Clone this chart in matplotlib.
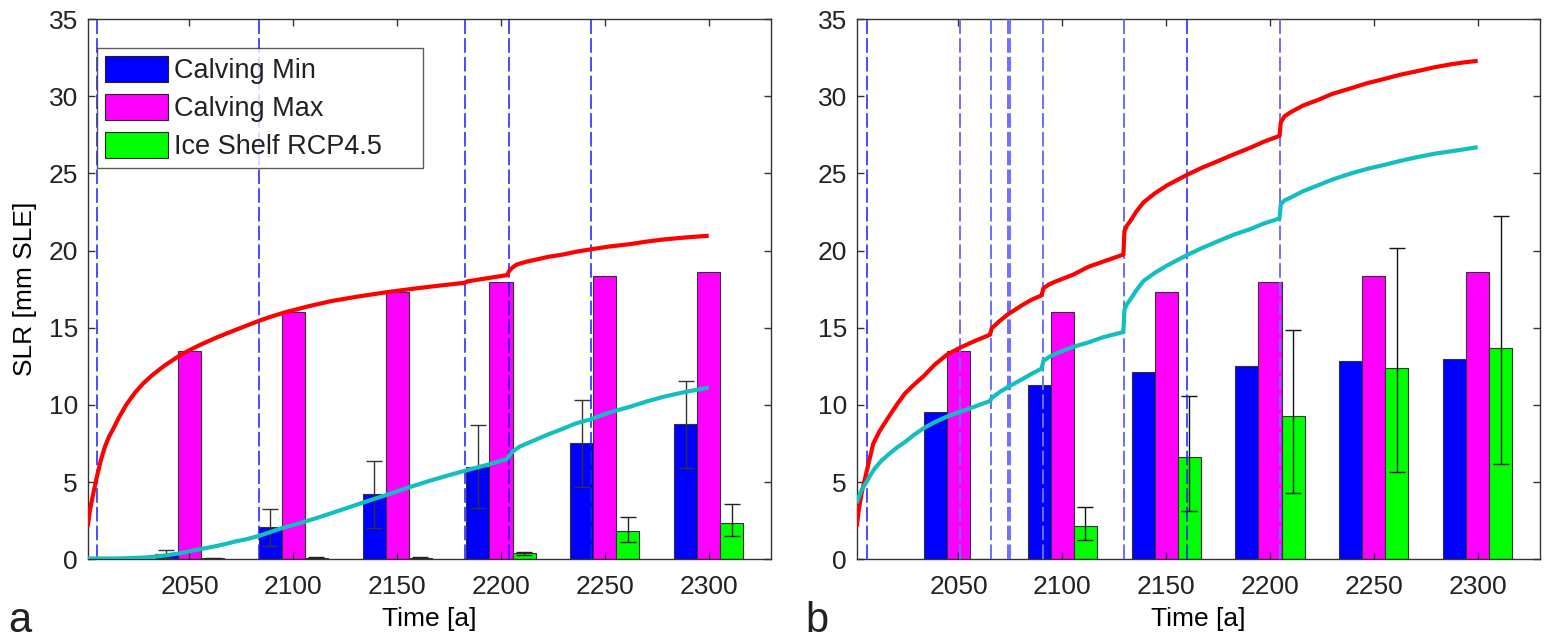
import numpy as np
import matplotlib.pyplot as plt
from matplotlib.patches import Patch

plt.rcParams['font.family'] = ['Liberation Sans', 'DejaVu Sans']
plt.rcParams['lines.scale_dashes'] = False
plt.rcParams['text.color'] = '#222222'

# bar groups
years = [2050, 2100, 2150, 2200, 2250, 2300]
calving_max = [13.49, 16.04, 17.29, 17.96, 18.37, 18.61]

# panel a
calving_min_a = [0.34, 2.07, 4.21, 6.00, 7.51, 8.74]
calving_min_a_lo = [0.08, 0.88, 2.03, 3.30, 4.68, 5.91]
calving_min_a_hi = [0.60, 3.26, 6.39, 8.72, 10.32, 11.55]
shelf_a = [0.06, 0.10, 0.10, 0.39, 1.83, 2.37]
shelf_a_lo = [0.04, 0.06, 0.05, 0.26, 1.14, 1.51]
shelf_a_hi = [0.08, 0.13, 0.14, 0.49, 2.76, 3.56]

# panel b
calving_min_b = [9.52, 11.27, 12.11, 12.55, 12.84, 12.99]
shelf_b = [0.04, 2.16, 6.63, 9.30, 12.40, 13.68]
shelf_b_lo = [np.nan, 1.25, 3.11, 4.31, 5.63, 6.17]
shelf_b_hi = [np.nan, 3.37, 10.58, 14.83, 20.14, 22.26]

# time series, panel a
red_a_t = [2001.0, 2002.1, 2003.7, 2005.5, 2007.3, 2009.3, 2011.3, 2013.3, 2015.7,
           2019.5, 2023.8, 2027.8, 2031.8, 2038.0, 2044.4, 2050.0, 2055.9, 2064.0,
           2072.0, 2083.5, 2090.0, 2096.1, 2107.0, 2118.0, 2131.0, 2144.4, 2155.0,
           2165.9, 2175.0, 2182.9, 2183.6, 2193.0, 2202.9, 2204.0, 2205.5, 2207.7,
           2212.0, 2217.3, 2223.0, 2230.2, 2236.0, 2243.2, 2252.0, 2262.3, 2270.0,
           2278.3, 2289.0, 2300.0]
red_a_v = [2.11, 3.2, 4.27, 5.4, 6.4, 7.3, 7.95, 8.45, 9.1,
           10.0, 10.8, 11.4, 11.9, 12.55, 13.12, 13.55, 13.94, 14.42,
           14.85, 15.45, 15.75, 16.0, 16.38, 16.72, 17.02, 17.29, 17.48,
           17.66, 17.8, 17.92, 18.0, 18.2, 18.41, 18.69, 18.9, 19.1,
           19.27, 19.43, 19.6, 19.75, 19.92, 20.08, 20.26, 20.42, 20.58,
           20.72, 20.85, 20.96]
cyan_a_t = [2001.0, 2012.0, 2020.0, 2026.0, 2032.0, 2039.0, 2045.5, 2053.0, 2061.5,
            2067.0, 2072.0, 2078.0, 2083.0, 2088.0, 2094.0, 2102.0, 2110.0, 2118.0,
            2126.0, 2135.0, 2144.4, 2151.0, 2158.0, 2166.0, 2175.0, 2183.0, 2190.0,
            2196.0, 2202.9, 2204.2, 2205.5, 2209.0, 2214.5, 2222.0, 2230.2, 2236.0,
            2243.2, 2252.0, 2262.3, 2270.0, 2278.3, 2289.0, 2300.0]
cyan_a_v = [0.05, 0.05, 0.07, 0.1, 0.15, 0.26, 0.39, 0.6, 0.82,
            0.98, 1.15, 1.32, 1.5, 1.72, 2.0, 2.3, 2.62, 2.97,
            3.33, 3.74, 4.15, 4.45, 4.76, 5.1, 5.45, 5.75, 6.0,
            6.22, 6.5, 6.75, 6.97, 7.3, 7.62, 8.05, 8.48, 8.8,
            9.07, 9.5, 9.89, 10.22, 10.53, 10.85, 11.12]

# time series, panel b
red_b_t = [2001.0, 2002.2, 2003.4, 2004.6, 2005.8, 2007.4, 2009.0, 2012.0, 2017.0,
           2020.5, 2024.3, 2028.5, 2033.1, 2038.5, 2044.4, 2050.8, 2058.0, 2065.2,
           2066.0, 2069.5, 2073.3, 2080.5, 2085.0, 2090.0, 2090.9, 2093.5, 2096.5,
           2105.4, 2112.6, 2120.0, 2129.4, 2129.9, 2131.0, 2132.7, 2135.5, 2139.1,
           2144.5, 2150.4, 2159.8, 2167.0, 2174.5, 2182.0, 2190.5, 2197.0, 2204.6,
           2205.2, 2207.0, 2210.2, 2216.0, 2223.0, 2230.0, 2239.1, 2247.0, 2255.1,
           2263.0, 2271.2, 2279.0, 2287.3, 2294.0, 2300.0]
red_b_v = [2.11, 3.4, 4.3, 5.0, 5.7, 6.6, 7.5, 8.3, 9.35,
           10.05, 10.75, 11.3, 11.85, 12.6, 13.25, 13.71, 14.15, 14.55,
           14.96, 15.4, 15.82, 16.45, 16.8, 17.1, 17.55, 17.8, 17.98,
           18.45, 18.95, 19.3, 19.74, 21.24, 21.6, 21.9, 22.5, 23.12,
           23.7, 24.22, 24.89, 25.35, 25.77, 26.2, 26.66, 27.05, 27.43,
           28.31, 28.7, 28.98, 29.4, 29.75, 30.15, 30.52, 30.85, 31.12,
           31.4, 31.63, 31.87, 32.07, 32.2, 32.29]
cyan_b_t = [2001.0, 2002.2, 2003.4, 2005.8, 2007.8, 2009.8, 2013.0, 2017.0, 2020.5,
            2024.3, 2028.5, 2033.1, 2038.5, 2044.4, 2050.0, 2055.0, 2060.0, 2065.2,
            2066.0, 2070.0, 2074.3, 2080.5, 2085.0, 2090.0, 2090.9, 2093.5, 2096.5,
            2105.4, 2112.6, 2120.0, 2129.4, 2129.9, 2131.0, 2132.7, 2135.5, 2139.1,
            2144.5, 2150.4, 2159.8, 2167.0, 2174.5, 2182.0, 2190.5, 2197.0, 2204.6,
            2205.2, 2207.0, 2210.2, 2216.0, 2223.0, 2230.0, 2239.1, 2247.0, 2255.1,
            2263.0, 2271.2, 2279.0, 2287.3, 2294.0, 2300.0]
cyan_b_v = [3.63, 4.1, 4.5, 5.03, 5.5, 5.9, 6.4, 6.87, 7.25,
            7.6, 8.05, 8.48, 8.88, 9.24, 9.52, 9.75, 10.0, 10.25,
            10.45, 10.85, 11.2, 11.65, 12.0, 12.35, 12.85, 13.1, 13.3,
            13.77, 14.05, 14.4, 14.72, 16.15, 16.5, 16.82, 17.4, 18.03,
            18.55, 19.03, 19.69, 20.15, 20.58, 21.0, 21.39, 21.75, 22.08,
            23.0, 23.25, 23.45, 23.85, 24.22, 24.6, 25.0, 25.3, 25.55,
            25.82, 26.06, 26.27, 26.43, 26.57, 26.7]

# event markers (dashed verticals)
events_a = [2005.6, 2083.5, 2182.9, 2204.0, 2243.2]
events_b_dark = [2005.8, 2159.8]
events_b_light = [2050.8, 2065.8, 2074.0, 2074.8, 2090.7, 2129.6, 2205.0]

BLUE, MAGENTA, GREEN = '#0000ff', '#ff00ff', '#00ff00'
RED, CYAN = '#ff0000', '#14bebe'
FS = 19
bw = 11.1
x = np.array(years, dtype=float)


def bars(ax, vals, offset, color):
    ax.bar(x + offset, vals, width=bw, color=color, edgecolor='#333333',
           linewidth=0.8, zorder=1)


def errbars(ax, offset, vals, lo, hi, color):
    vals, lo, hi = map(np.asarray, (vals, lo, hi))
    ok = np.isfinite(lo)
    ax.errorbar(x[ok] + offset, vals[ok], yerr=[vals[ok] - lo[ok], hi[ok] - vals[ok]],
                fmt='none', ecolor=color, elinewidth=1.0, capsize=6, capthick=1.0,
                zorder=2)


def vlines(ax, ts, color, lw):
    for t in ts:
        ax.axvline(t, color=color, lw=lw, linestyle=(0, (10.5, 3)), zorder=3)


def curve(ax, t, v, color):
    ax.plot(t, v, color=color, lw=3.0, zorder=4, solid_capstyle='butt',
            solid_joinstyle='round')


def style(ax):
    ax.set_xlim(2001, 2330)
    ax.set_ylim(0, 35)
    ax.set_xticks(years)
    ax.set_yticks(range(0, 36, 5))
    ax.tick_params(direction='in', top=True, right=True, length=5, width=1,
                   color='#333333', labelsize=FS, labelcolor='#222222')
    ax.tick_params(axis='x', pad=11)
    ax.tick_params(axis='y', pad=7)
    for s in ax.spines.values():
        s.set_color('#333333')
        s.set_linewidth(1.0)
    ax.set_xlabel('Time [a]', fontsize=FS, labelpad=6)


fig = plt.figure(figsize=(15.52, 6.39), dpi=100)
ax_a = fig.add_axes([87.7 / 1552, 79.7 / 639, 683.3 / 1552, 540.3 / 639])
ax_b = fig.add_axes([856.7 / 1552, 79.7 / 639, 683.3 / 1552, 540.3 / 639])

# panel a
bars(ax_a, calving_min_a, -bw, BLUE)
bars(ax_a, calving_max, 0, MAGENTA)
bars(ax_a, shelf_a, bw, GREEN)
errbars(ax_a, -bw, calving_min_a, calving_min_a_lo, calving_min_a_hi, '#333333')
errbars(ax_a, bw, shelf_a, shelf_a_lo, shelf_a_hi, '#222222')
vlines(ax_a, events_a, '#1a1aff', 1.1)
curve(ax_a, red_a_t, red_a_v, RED)
curve(ax_a, cyan_a_t, cyan_a_v, CYAN)
style(ax_a)
ax_a.set_ylabel('SLR [mm SLE]', fontsize=FS, labelpad=8)

handles = [Patch(facecolor=c, edgecolor='#222222', linewidth=0.8)
           for c in (BLUE, MAGENTA, GREEN)]
leg = ax_a.legend(handles, ['Calving Min', 'Calving Max', 'Ice Shelf RCP4.5'],
                  loc='upper left', bbox_to_anchor=(0.014, 0.5, 0.477, 0.4458),
                  mode='expand', borderaxespad=0, fontsize=19.5, frameon=True,
                  fancybox=False, handlelength=2.3, handleheight=1.07,
                  handletextpad=0.25, labelspacing=0.37, borderpad=0.3)
leg.get_frame().set_edgecolor('#333333')
leg.get_frame().set_linewidth(1.0)

# panel b
bars(ax_b, calving_min_b, -bw, BLUE)
bars(ax_b, calving_max, 0, MAGENTA)
bars(ax_b, shelf_b, bw, GREEN)
errbars(ax_b, bw, shelf_b, shelf_b_lo, shelf_b_hi, '#111111')
vlines(ax_b, events_b_light, '#6e6eff', 1.4)
vlines(ax_b, events_b_dark, '#1a1aff', 1.1)
curve(ax_b, red_b_t, red_b_v, RED)
curve(ax_b, cyan_b_t, cyan_b_v, CYAN)
style(ax_b)

fig.text(8 / 1552, 7 / 639, 'a', fontsize=30, va='baseline', ha='left')
fig.text(805 / 1552, 7 / 639, 'b', fontsize=30, va='baseline', ha='left')

fig.savefig('out.png', dpi=100)
